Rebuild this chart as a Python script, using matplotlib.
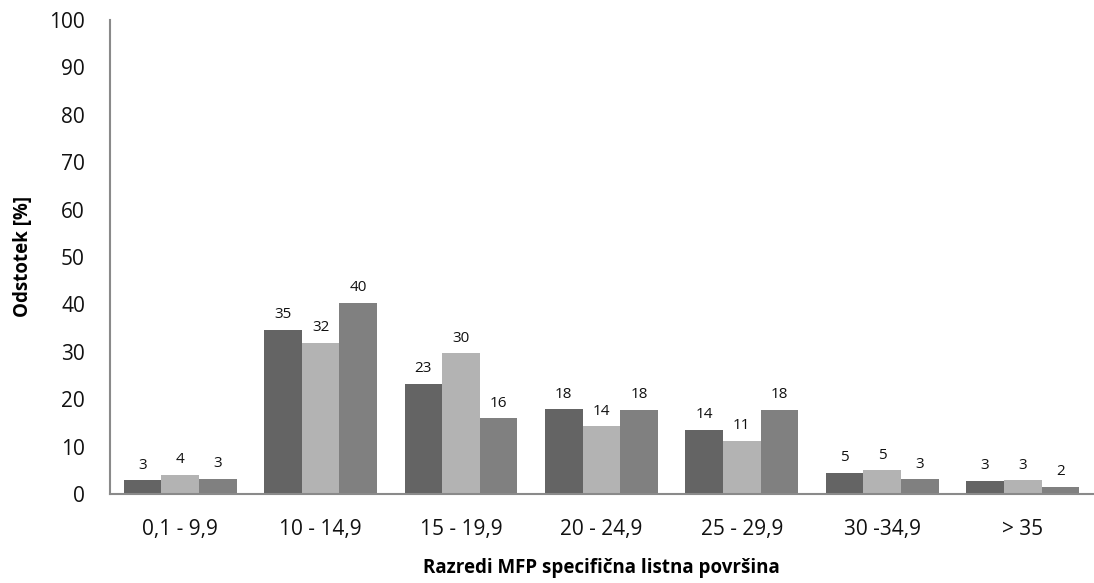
import matplotlib.pyplot as plt
import numpy as np

categories = ['0,1 - 9,9', '10 - 14,9', '15 - 19,9', '20 - 24,9', '25 - 29,9', '30 -34,9', '> 35']
series_a = [2.9, 34.6, 23.2, 17.9, 13.5, 4.5, 2.8]
series_b = [4.0, 31.9, 29.7, 14.3, 11.2, 5.0, 2.9]
series_c = [3.2, 40.3, 16.0, 17.7, 17.7, 3.1, 1.5]
labels_a = ['3', '35', '23', '18', '14', '5', '3']
labels_b = ['4', '32', '30', '14', '11', '5', '3']
labels_c = ['3', '40', '16', '18', '18', '3', '2']

plt.rcParams['font.family'] = ['Open Sans', 'DejaVu Sans']

fig = plt.figure(figsize=(10.94, 5.83), dpi=100)
ax = fig.add_axes([0.1005, 0.1527, 0.8985, 0.813])

x = np.arange(len(categories))
w = 0.268
colors = ['#646464', '#b3b3b3', '#808080']
for i, (vals, labs) in enumerate([(series_a, labels_a), (series_b, labels_b), (series_c, labels_c)]):
    bars = ax.bar(x + (i - 1) * w, vals, w, color=colors[i])
    for b, lab in zip(bars, labs):
        ax.text(b.get_x() + b.get_width() / 2, b.get_height() + 1.6, lab,
                ha='center', va='bottom', fontsize=11, color='#111111')

ax.set_xlim(-0.5, 6.5)
ax.set_ylim(0, 100)
ax.set_yticks(range(0, 101, 10))
ax.set_xticks(x)
ax.set_xticklabels(categories)
ax.tick_params(axis='both', length=0, labelsize=15, colors='#111111')
ax.tick_params(axis='x', pad=18)
ax.tick_params(axis='y', pad=18)
for s in ['top', 'right']:
    ax.spines[s].set_visible(False)
for s in ['left', 'bottom']:
    ax.spines[s].set_color('#8a8a8a')
    ax.spines[s].set_linewidth(1.5)

ax.set_ylabel('Odstotek [%]', fontsize=13.5, fontweight='bold', labelpad=12)
ax.set_xlabel('Razredi MFP specifična listna površina', fontsize=13.5, fontweight='bold', labelpad=13)

fig.savefig('out.png', dpi=100)
